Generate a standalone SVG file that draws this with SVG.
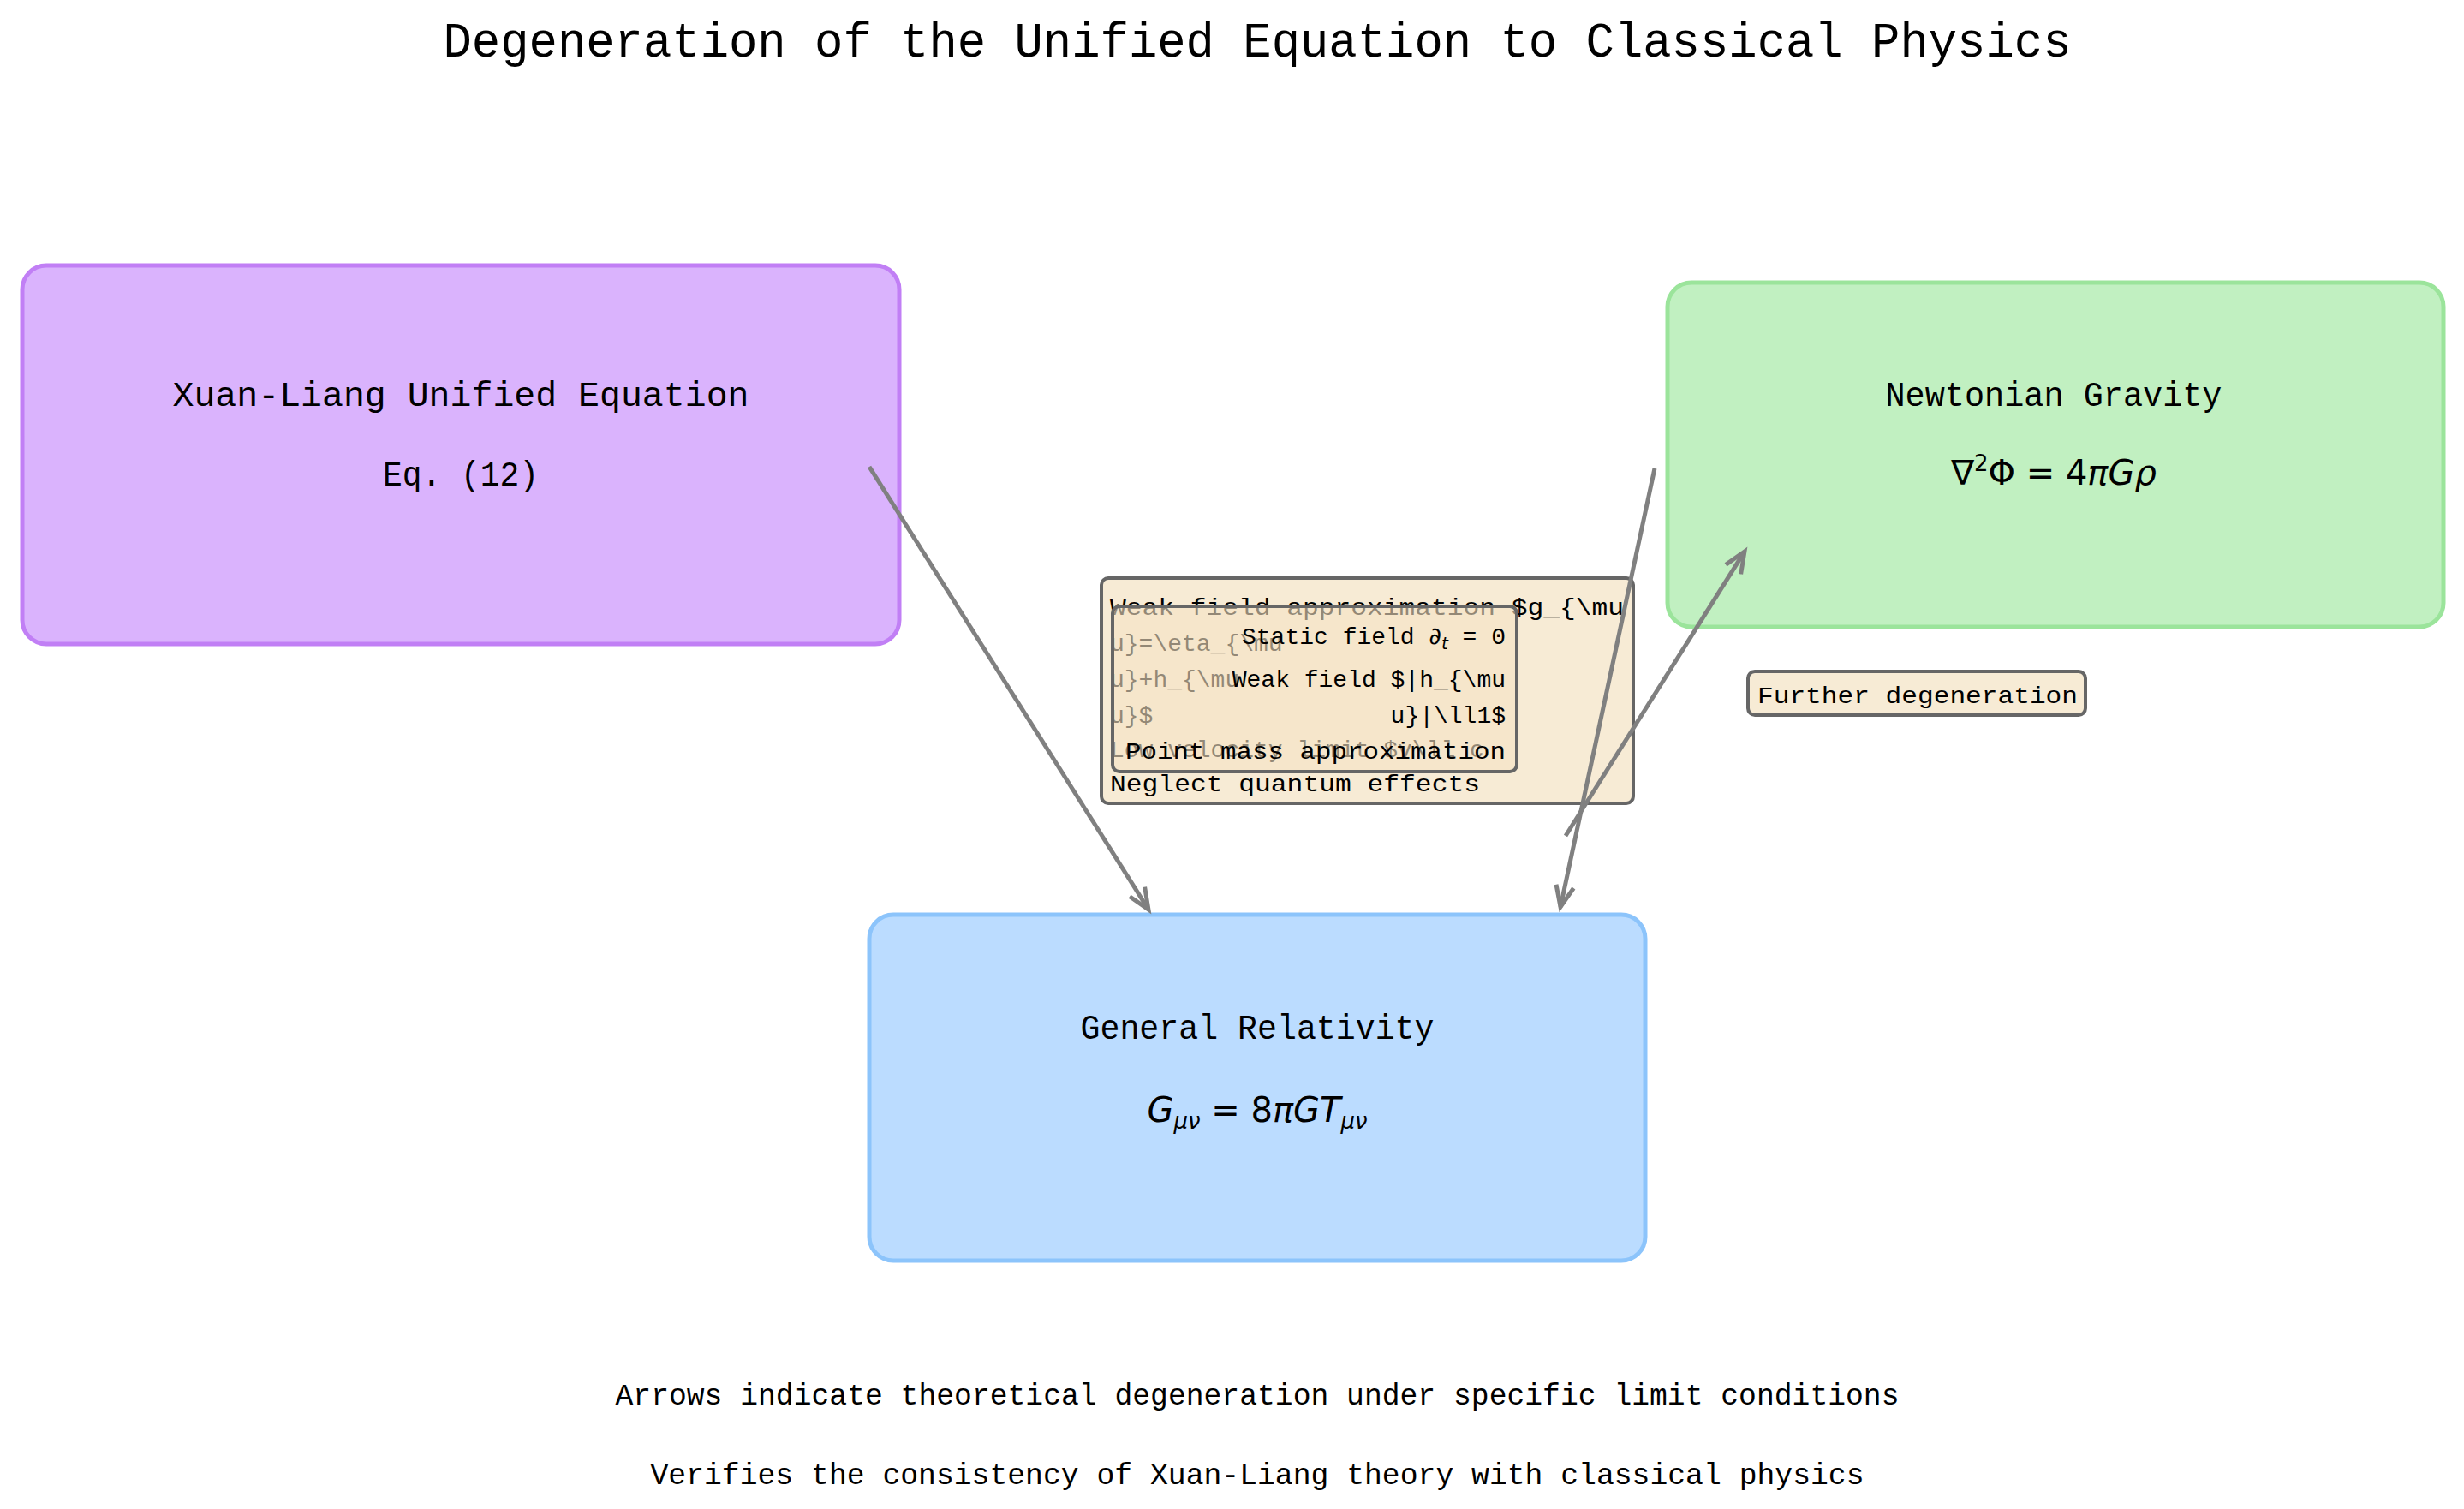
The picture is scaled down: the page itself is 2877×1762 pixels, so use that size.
<svg xmlns="http://www.w3.org/2000/svg" width="2877" height="1762" viewBox="0 0 2877 1762">
<style>
.t{font-family:"Liberation Mono","DejaVu Sans Mono",monospace;fill:#000}
.m{font-family:"DejaVu Sans",sans-serif;font-style:italic;fill:#000}
.c{stroke:#808080;stroke-width:5;fill:none;marker-end:url(#ah)}
.lb{fill:#f7ebd5;stroke:#666;stroke-width:4}
</style>
<defs>
<marker id="ah" viewBox="0 0 10 10" refX="9.5" refY="5" markerWidth="26" markerHeight="26" orient="auto" markerUnits="userSpaceOnUse" style="overflow:visible">
<path d="M0,1 L9.5,5 L0,9" fill="none" stroke="#808080" stroke-width="1.9"/>
</marker>
</defs>
<rect width="2877" height="1762" fill="#fff"/>
<text class="t" x="1468" y="66" font-size="58" text-anchor="middle" textLength="1901" lengthAdjust="spacingAndGlyphs">Degeneration of the Unified Equation to Classical Physics</text>
<g id="xuan">
<rect x="26" y="310" width="1024" height="442" rx="28" fill="#dab3fd" stroke="#c17ff5" stroke-width="5"/>
<text class="t" x="538" y="474" font-size="40" text-anchor="middle" textLength="673" lengthAdjust="spacingAndGlyphs">Xuan-Liang Unified Equation</text>
<text class="t" x="538" y="567" font-size="40" text-anchor="middle" textLength="182" lengthAdjust="spacingAndGlyphs">Eq. (12)</text>
</g>
<g id="newton">
<rect x="1947" y="330" width="906" height="402" rx="28" fill="#c1f0c1" stroke="#9be49b" stroke-width="5"/>
<text class="t" x="2398" y="474" font-size="40" text-anchor="middle" textLength="393" lengthAdjust="spacingAndGlyphs">Newtonian Gravity</text>
<text class="m" x="2398" y="566" font-size="40" text-anchor="middle"><tspan font-style="normal">∇</tspan><tspan font-size="26" dy="-16" font-style="normal">2</tspan><tspan dy="16" font-style="normal">Φ = 4</tspan>πGρ</text>
</g>
<g id="gr">
<rect x="1015" y="1068" width="906" height="404" rx="28" fill="#bbdcff" stroke="#8cc4fb" stroke-width="5"/>
<text class="t" x="1468" y="1213" font-size="40" text-anchor="middle" textLength="413" lengthAdjust="spacingAndGlyphs">General Relativity</text>
<text class="m" x="1468" y="1310" font-size="40" text-anchor="middle">G<tspan font-size="26" dy="8">μν</tspan><tspan dy="-8" font-style="normal"> = 8</tspan>πGT<tspan font-size="26" dy="8">μν</tspan></text>
</g>
<g id="label-conditions">
<rect class="lb" x="1286" y="675" width="621" height="263" rx="8"/>
<g class="t" font-size="28">
<text x="1296" y="718" textLength="600" lengthAdjust="spacingAndGlyphs">Weak field approximation $g_{\mu</text>
<text x="1296" y="760">u}=\eta_{\mu</text>
<text x="1296" y="802">u}+h_{\mu</text>
<text x="1296" y="844">u}$</text>
<text x="1296" y="884">Low velocity limit $v\ll c</text>
<text x="1296" y="924" textLength="432" lengthAdjust="spacingAndGlyphs">Neglect quantum effects</text>
</g>
<rect x="1299" y="708" width="472" height="193" rx="8" fill="#f5e3c5" fill-opacity="0.6" stroke="#666" stroke-width="4"/>
<g class="t" font-size="28" text-anchor="end">
<text x="1758" y="752">Static field <tspan class="m">∂</tspan><tspan class="m" font-size="20" dy="6">t</tspan><tspan dy="-6"> = 0</tspan></text>
<text x="1758" y="802">Weak field $|h_{\mu</text>
<text x="1758" y="844">u}|\ll1$</text>
<text x="1758" y="886" textLength="444" lengthAdjust="spacingAndGlyphs">Point mass approximation</text>
</g>
</g>
<g id="label-further">
<rect class="lb" x="2041" y="784" width="394" height="51" rx="8"/>
<text class="t" x="2052" y="821" font-size="28" textLength="374" lengthAdjust="spacingAndGlyphs">Further degeneration</text>
</g>
<g id="connectors">
<path class="c" d="M1015,545 L1341,1062"/>
<path class="c" d="M1932,547 L1822,1059"/>
<path class="c" d="M1828,976 L2037,644"/>
</g>
<text class="t" x="1468" y="1640" font-size="35" text-anchor="middle" textLength="1499" lengthAdjust="spacingAndGlyphs">Arrows indicate theoretical degeneration under specific limit conditions</text>
<text class="t" x="1468" y="1733" font-size="35" text-anchor="middle" textLength="1417" lengthAdjust="spacingAndGlyphs">Verifies the consistency of Xuan-Liang theory with classical physics</text>
</svg>
